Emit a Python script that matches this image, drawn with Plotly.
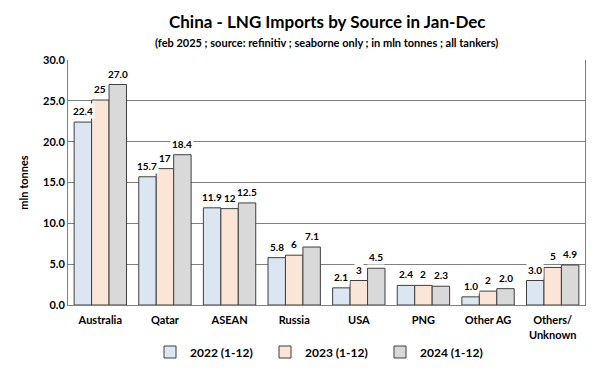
import plotly.graph_objects as go

categories = ["Australia", "Qatar", "ASEAN", "Russia", "USA", "PNG", "Other AG", "Others/<br>Unknown"]
series_names = ["2022 (1-12)", "2023 (1-12)", "2024 (1-12)"]
v2022 = [22.4, 15.7, 11.9, 5.8, 2.1, 2.4, 1.0, 3.0]
v2023 = [25.1, 16.7, 11.8, 6.1, 3.0, 2.4, 1.7, 4.6]
v2024 = [27.0, 18.4, 12.5, 7.1, 4.5, 2.3, 2.0, 4.9]
label_fmt = ["{:.1f}", "{:.0f}", "{:.1f}"]
colors = ["#dce6f2", "#fbe5d6", "#d9d9d9"]
series = [v2022, v2023, v2024]

PT, PB, PL, PR = 60, 305, 68, 585  # plot area edges in px
def py(p):
    return (PB - p) / (PB - PT)
def px(p):
    return (p - PL) / (PR - PL)

bargap = 0.19
fig = go.Figure()
for name, vals, col in zip(series_names, series, colors):
    fig.add_trace(go.Bar(x=list(range(len(categories))), y=vals, name=name,
                         marker=dict(color=col, line=dict(color="#3f3f3f", width=1)),
                         hoverinfo="skip"))

bw = (1 - bargap) / 3
for s, (vals, fmt) in enumerate(zip(series, label_fmt)):
    off = (s - 1) * bw
    for i, v in enumerate(vals):
        fig.add_annotation(x=i + off, y=v, text=fmt.format(v), showarrow=False,
                           yanchor="bottom", yshift=3, bgcolor="white",
                           font=dict(family="Lato", size=10, color="black", weight="bold"),
                           borderpad=1)

fig.add_annotation(text="<b>China - LNG Imports by Source in Jan-Dec</b>", xref="paper", yref="paper",
                   x=0.5, y=py(21), xanchor="center", yanchor="middle", showarrow=False,
                   font=dict(size=17, family="Lato", color="black"))
fig.add_annotation(text="<b>(feb 2025 ; source: refinitiv ; seaborne only ; in mln tonnes ; all tankers)</b>",
                   xref="paper", yref="paper",
                   x=0.5, y=py(42), xanchor="center", yanchor="middle", showarrow=False,
                   font=dict(size=11, family="Lato", color="black"))

fig.update_layout(
    width=600, height=387,
    paper_bgcolor="white", plot_bgcolor="white",
    margin=dict(l=PL, r=600 - PR, t=PT, b=387 - PB, autoexpand=False),
    barmode="group", bargap=bargap, bargroupgap=0,
    font=dict(family="Lato", color="black"),
    legend=dict(orientation="h", x=px(150), xanchor="left", y=py(352),
                yanchor="middle", itemwidth=30, tracegroupgap=0,
                font=dict(size=12, weight="bold"), entrywidth=70, traceorder="normal"),
    showlegend=True,
)
fig.update_xaxes(tickmode="array", tickvals=list(range(len(categories))), ticktext=categories,
                 range=[-0.5, len(categories) - 0.5],
                 tickfont=dict(size=11, weight="bold"), showline=True, linecolor="#808080",
                 mirror=False, ticks="outside", ticklen=5, tickcolor="rgba(0,0,0,0)", showgrid=False)
fig.update_yaxes(range=[0, 30], dtick=5, tickformat=".1f", showgrid=True, gridcolor="#808080",
                 gridwidth=1, showline=True, linecolor="#808080", mirror=True,
                 tickfont=dict(size=11, weight="bold"),
                 title=dict(text="mln tonnes", font=dict(size=11, weight="bold"), standoff=12),
                 zeroline=False)
fig.write_html("out.html", config={"displayModeBar": False},
               post_script="document.body.style.margin='0';")
